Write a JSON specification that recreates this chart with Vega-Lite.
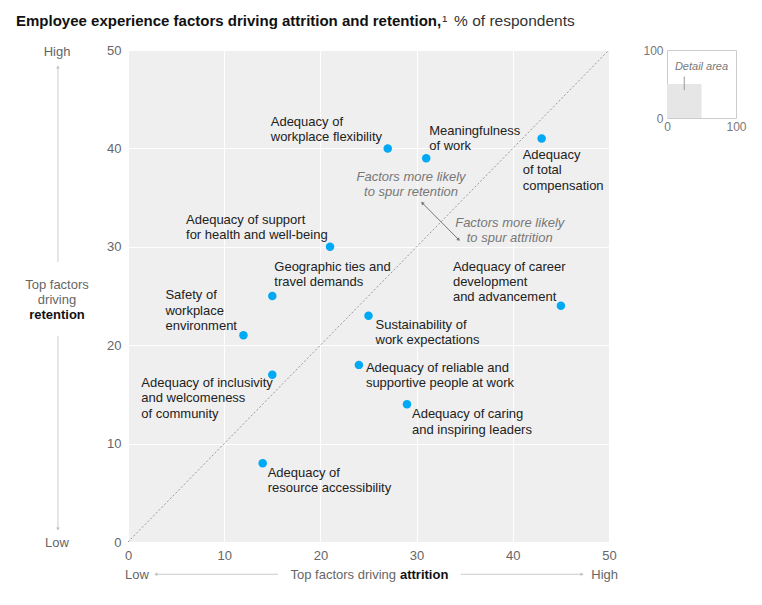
{
  "$schema": "https://vega.github.io/schema/vega-lite/v6.json",
  "padding": {"left": 16, "top": 13, "right": 5, "bottom": 5},
  "spacing": 23,
  "config": {
    "font": "Liberation Sans",
    "axis": {"labelFlush": false, "domain": false, "ticks": false},
    "view": {"stroke": null}
  },
  "hconcat": [
    {
      "width": 481,
      "height": 492,
      "view": {"fill": "#efefef", "stroke": null},
      "data": {
        "values": [
          {"name": "flex", "label": "Adequacy of\nworkplace flexibility", "attrition": 27, "retention": 40},
          {"name": "meaning", "label": "Meaningfulness\nof work", "attrition": 31, "retention": 39},
          {"name": "comp", "label": "Adequacy\nof total\ncompensation", "attrition": 43, "retention": 41},
          {"name": "health", "label": "Adequacy of support\nfor health and well-being", "attrition": 21, "retention": 30},
          {"name": "geo", "label": "Geographic ties and\ntravel demands", "attrition": 15, "retention": 25},
          {"name": "safety", "label": "Safety of\nworkplace\nenvironment", "attrition": 12, "retention": 21},
          {"name": "sustain", "label": "Sustainability of\nwork expectations", "attrition": 25, "retention": 23},
          {"name": "career", "label": "Adequacy of career\ndevelopment\nand advancement", "attrition": 45, "retention": 24},
          {"name": "reliable", "label": "Adequacy of reliable and\nsupportive people at work", "attrition": 24, "retention": 18},
          {"name": "inclus", "label": "Adequacy of inclusivity\nand welcomeness\nof community", "attrition": 15, "retention": 17},
          {"name": "caring", "label": "Adequacy of caring\nand inspiring leaders", "attrition": 29, "retention": 14},
          {"name": "resource", "label": "Adequacy of\nresource accessibility", "attrition": 14, "retention": 8}
        ]
      },
      "layer": [
        {
          "data": {"values": [{}]},
          "mark": {"type": "rule", "strokeDash": [2, 2], "color": "#999", "strokeWidth": 1},
          "encoding": {
            "x": {"datum": 0, "type": "quantitative"},
            "y": {"datum": 0, "type": "quantitative"},
            "x2": {"datum": 50},
            "y2": {"datum": 50}
          }
        },
        {
          "mark": {"type": "circle", "size": 72, "color": "#00a9f4", "opacity": 1},
          "encoding": {
            "x": {
              "field": "attrition", "type": "quantitative",
              "scale": {"domain": [0, 50], "nice": false, "zero": true},
              "axis": {"values": [0, 10, 20, 30, 40, 50], "grid": true, "gridColor": "#ffffff", "gridWidth": 1, "labelColor": "#666", "labelFontSize": 13, "labelPadding": 7, "title": null}
            },
            "y": {
              "field": "retention", "type": "quantitative",
              "scale": {"domain": [0, 50], "nice": false, "zero": true},
              "axis": {"values": [0, 10, 20, 30, 40, 50], "grid": true, "gridColor": "#ffffff", "gridWidth": 1, "labelColor": "#666", "labelFontSize": 13, "labelPadding": 7, "title": null}
            }
          }
        },
        {"transform": [{"filter": {"field": "name", "equal": "flex"}}], "mark": {"type": "text", "align": "left", "baseline": "alphabetic", "lineBreak": "\n", "lineHeight": 15, "fontSize": 13, "color": "#222", "dx": -117, "dy": -22}, "encoding": {"x": {"field": "attrition", "type": "quantitative"}, "y": {"field": "retention", "type": "quantitative"}, "text": {"field": "label"}}},
        {"transform": [{"filter": {"field": "name", "equal": "meaning"}}], "mark": {"type": "text", "align": "left", "baseline": "alphabetic", "lineBreak": "\n", "lineHeight": 15, "fontSize": 13, "color": "#222", "dx": 3, "dy": -23}, "encoding": {"x": {"field": "attrition", "type": "quantitative"}, "y": {"field": "retention", "type": "quantitative"}, "text": {"field": "label"}}},
        {"transform": [{"filter": {"field": "name", "equal": "comp"}}], "mark": {"type": "text", "align": "left", "baseline": "alphabetic", "lineBreak": "\n", "lineHeight": 15.5, "fontSize": 13, "color": "#222", "dx": -19, "dy": 20}, "encoding": {"x": {"field": "attrition", "type": "quantitative"}, "y": {"field": "retention", "type": "quantitative"}, "text": {"field": "label"}}},
        {"transform": [{"filter": {"field": "name", "equal": "health"}}], "mark": {"type": "text", "align": "left", "baseline": "alphabetic", "lineBreak": "\n", "lineHeight": 15, "fontSize": 13, "color": "#222", "dx": -144, "dy": -23}, "encoding": {"x": {"field": "attrition", "type": "quantitative"}, "y": {"field": "retention", "type": "quantitative"}, "text": {"field": "label"}}},
        {"transform": [{"filter": {"field": "name", "equal": "geo"}}], "mark": {"type": "text", "align": "left", "baseline": "alphabetic", "lineBreak": "\n", "lineHeight": 15, "fontSize": 13, "color": "#222", "dx": 2, "dy": -25}, "encoding": {"x": {"field": "attrition", "type": "quantitative"}, "y": {"field": "retention", "type": "quantitative"}, "text": {"field": "label"}}},
        {"transform": [{"filter": {"field": "name", "equal": "safety"}}], "mark": {"type": "text", "align": "left", "baseline": "alphabetic", "lineBreak": "\n", "lineHeight": 15.5, "fontSize": 13, "color": "#222", "dx": -78, "dy": -36}, "encoding": {"x": {"field": "attrition", "type": "quantitative"}, "y": {"field": "retention", "type": "quantitative"}, "text": {"field": "label"}}},
        {"transform": [{"filter": {"field": "name", "equal": "sustain"}}], "mark": {"type": "text", "align": "left", "baseline": "alphabetic", "lineBreak": "\n", "lineHeight": 15, "fontSize": 13, "color": "#222", "dx": 7, "dy": 13}, "encoding": {"x": {"field": "attrition", "type": "quantitative"}, "y": {"field": "retention", "type": "quantitative"}, "text": {"field": "label"}}},
        {"transform": [{"filter": {"field": "name", "equal": "career"}}], "mark": {"type": "text", "align": "left", "baseline": "alphabetic", "lineBreak": "\n", "lineHeight": 15.3, "fontSize": 13, "color": "#222", "dx": -108, "dy": -35}, "encoding": {"x": {"field": "attrition", "type": "quantitative"}, "y": {"field": "retention", "type": "quantitative"}, "text": {"field": "label"}}},
        {"transform": [{"filter": {"field": "name", "equal": "reliable"}}], "mark": {"type": "text", "align": "left", "baseline": "alphabetic", "lineBreak": "\n", "lineHeight": 15, "fontSize": 13, "color": "#222", "dx": 7, "dy": 7}, "encoding": {"x": {"field": "attrition", "type": "quantitative"}, "y": {"field": "retention", "type": "quantitative"}, "text": {"field": "label"}}},
        {"transform": [{"filter": {"field": "name", "equal": "inclus"}}], "mark": {"type": "text", "align": "left", "baseline": "alphabetic", "lineBreak": "\n", "lineHeight": 15.5, "fontSize": 13, "color": "#222", "dx": -131, "dy": 12}, "encoding": {"x": {"field": "attrition", "type": "quantitative"}, "y": {"field": "retention", "type": "quantitative"}, "text": {"field": "label"}}},
        {"transform": [{"filter": {"field": "name", "equal": "caring"}}], "mark": {"type": "text", "align": "left", "baseline": "alphabetic", "lineBreak": "\n", "lineHeight": 15.5, "fontSize": 13, "color": "#222", "dx": 5, "dy": 14}, "encoding": {"x": {"field": "attrition", "type": "quantitative"}, "y": {"field": "retention", "type": "quantitative"}, "text": {"field": "label"}}},
        {"transform": [{"filter": {"field": "name", "equal": "resource"}}], "mark": {"type": "text", "align": "left", "baseline": "alphabetic", "lineBreak": "\n", "lineHeight": 15, "fontSize": 13, "color": "#222", "dx": 5, "dy": 14}, "encoding": {"x": {"field": "attrition", "type": "quantitative"}, "y": {"field": "retention", "type": "quantitative"}, "text": {"field": "label"}}},
        {
          "data": {"values": [{}]},
          "mark": {"type": "text", "align": "left", "baseline": "alphabetic", "fontSize": 15, "fontWeight": "bold", "color": "#111", "text": "Employee experience factors driving attrition and retention,"},
          "encoding": {"x": {"datum": -11.64, "type": "quantitative"}, "y": {"datum": 52.44, "type": "quantitative"}}
        },
        {
          "data": {"values": [{}]},
          "mark": {"type": "text", "align": "left", "baseline": "alphabetic", "fontSize": 15, "color": "#333", "text": "¹"},
          "encoding": {"x": {"datum": 32.66, "type": "quantitative"}, "y": {"datum": 52.44, "type": "quantitative"}}
        },
        {
          "data": {"values": [{}]},
          "mark": {"type": "text", "align": "left", "baseline": "alphabetic", "fontSize": 15.5, "color": "#333", "text": "% of respondents"},
          "encoding": {"x": {"datum": 33.9, "type": "quantitative"}, "y": {"datum": 52.44, "type": "quantitative"}}
        },
        {
          "data": {"values": [{}]},
          "mark": {"type": "text", "align": "center", "baseline": "alphabetic", "fontSize": 13, "fontStyle": "italic", "color": "#777", "lineBreak": "\n", "lineHeight": 15.5, "text": "Factors more likely\nto spur retention"},
          "encoding": {"x": {"datum": 29.42, "type": "quantitative"}, "y": {"datum": 36.72, "type": "quantitative"}}
        },
        {
          "data": {"values": [{}]},
          "mark": {"type": "text", "align": "center", "baseline": "alphabetic", "fontSize": 13, "fontStyle": "italic", "color": "#777", "lineBreak": "\n", "lineHeight": 15.5, "text": "Factors more likely\nto spur attrition"},
          "encoding": {"x": {"datum": 39.68, "type": "quantitative"}, "y": {"datum": 32.06, "type": "quantitative"}}
        },
        {
          "data": {"values": [{}]},
          "mark": {"type": "rule", "color": "#777", "strokeWidth": 1},
          "encoding": {"x": {"datum": 30.63, "type": "quantitative"}, "y": {"datum": 34.42, "type": "quantitative"}, "x2": {"datum": 34.34}, "y2": {"datum": 30.76}}
        },
        {
          "data": {"values": [{}]},
          "mark": {"type": "point", "shape": "triangle", "angle": -45, "filled": true, "size": 14, "color": "#777", "opacity": 1},
          "encoding": {"x": {"datum": 30.63, "type": "quantitative"}, "y": {"datum": 34.42, "type": "quantitative"}}
        },
        {
          "data": {"values": [{}]},
          "mark": {"type": "point", "shape": "triangle", "angle": 135, "filled": true, "size": 14, "color": "#777", "opacity": 1},
          "encoding": {"x": {"datum": 34.34, "type": "quantitative"}, "y": {"datum": 30.76, "type": "quantitative"}}
        },
        {
          "data": {"values": [{}]},
          "mark": {"type": "text", "align": "center", "baseline": "middle", "fontSize": 13, "color": "#666", "text": "High"},
          "encoding": {"x": {"datum": -7.38, "type": "quantitative"}, "y": {"datum": 49.77, "type": "quantitative"}}
        },
        {
          "data": {"values": [{}]},
          "mark": {"type": "text", "align": "center", "baseline": "middle", "fontSize": 13, "color": "#666", "text": "Low"},
          "encoding": {"x": {"datum": -7.38, "type": "quantitative"}, "y": {"datum": -0.1, "type": "quantitative"}}
        },
        {
          "data": {"values": [{}]},
          "mark": {"type": "text", "align": "center", "baseline": "alphabetic", "fontSize": 13, "color": "#666", "lineBreak": "\n", "lineHeight": 15, "text": "Top factors\ndriving"},
          "encoding": {"x": {"datum": -7.38, "type": "quantitative"}, "y": {"datum": 25.76, "type": "quantitative"}}
        },
        {
          "data": {"values": [{}]},
          "mark": {"type": "text", "align": "center", "baseline": "alphabetic", "fontSize": 13, "fontWeight": "bold", "color": "#111", "text": "retention"},
          "encoding": {"x": {"datum": -7.38, "type": "quantitative"}, "y": {"datum": 22.66, "type": "quantitative"}}
        },
        {
          "data": {"values": [{}]},
          "mark": {"type": "rule", "color": "#ccc", "strokeWidth": 1},
          "encoding": {"x": {"datum": -7.28, "type": "quantitative"}, "y": {"datum": 48.27, "type": "quantitative"}, "y2": {"datum": 28.46}}
        },
        {
          "data": {"values": [{}]},
          "mark": {"type": "rule", "color": "#ccc", "strokeWidth": 1},
          "encoding": {"x": {"datum": -7.28, "type": "quantitative"}, "y": {"datum": 20.93, "type": "quantitative"}, "y2": {"datum": 1.32}}
        },
        {
          "data": {"values": [{}]},
          "mark": {"type": "point", "shape": "triangle-up", "filled": true, "size": 12, "color": "#bbb", "opacity": 1},
          "encoding": {"x": {"datum": -7.28, "type": "quantitative"}, "y": {"datum": 48.27, "type": "quantitative"}}
        },
        {
          "data": {"values": [{}]},
          "mark": {"type": "point", "shape": "triangle-down", "filled": true, "size": 12, "color": "#bbb", "opacity": 1},
          "encoding": {"x": {"datum": -7.28, "type": "quantitative"}, "y": {"datum": 1.32, "type": "quantitative"}}
        },
        {
          "data": {"values": [{}]},
          "mark": {"type": "text", "align": "right", "baseline": "alphabetic", "fontSize": 13, "color": "#666", "text": "Top factors driving"},
          "encoding": {"x": {"datum": 27.86, "type": "quantitative"}, "y": {"datum": -3.71, "type": "quantitative"}}
        },
        {
          "data": {"values": [{}]},
          "mark": {"type": "text", "align": "left", "baseline": "alphabetic", "fontSize": 13, "fontWeight": "bold", "color": "#111", "text": "attrition"},
          "encoding": {"x": {"datum": 28.27, "type": "quantitative"}, "y": {"datum": -3.71, "type": "quantitative"}}
        },
        {
          "data": {"values": [{}]},
          "mark": {"type": "text", "align": "left", "baseline": "alphabetic", "fontSize": 13, "color": "#666", "text": "Low"},
          "encoding": {"x": {"datum": -0.31, "type": "quantitative"}, "y": {"datum": -3.71, "type": "quantitative"}}
        },
        {
          "data": {"values": [{}]},
          "mark": {"type": "text", "align": "right", "baseline": "alphabetic", "fontSize": 13, "color": "#666", "text": "High"},
          "encoding": {"x": {"datum": 50.94, "type": "quantitative"}, "y": {"datum": -3.71, "type": "quantitative"}}
        },
        {
          "data": {"values": [{}]},
          "mark": {"type": "rule", "color": "#ccc", "strokeWidth": 1},
          "encoding": {"x": {"datum": 2.9, "type": "quantitative"}, "x2": {"datum": 15.6}, "y": {"datum": -3.28, "type": "quantitative"}}
        },
        {
          "data": {"values": [{}]},
          "mark": {"type": "rule", "color": "#ccc", "strokeWidth": 1},
          "encoding": {"x": {"datum": 34.6, "type": "quantitative"}, "x2": {"datum": 47.2}, "y": {"datum": -3.28, "type": "quantitative"}}
        },
        {
          "data": {"values": [{}]},
          "mark": {"type": "point", "shape": "triangle-left", "filled": true, "size": 12, "color": "#bbb", "opacity": 1},
          "encoding": {"x": {"datum": 2.9, "type": "quantitative"}, "y": {"datum": -3.28, "type": "quantitative"}}
        },
        {
          "data": {"values": [{}]},
          "mark": {"type": "point", "shape": "triangle-right", "filled": true, "size": 12, "color": "#bbb", "opacity": 1},
          "encoding": {"x": {"datum": 47.2, "type": "quantitative"}, "y": {"datum": -3.28, "type": "quantitative"}}
        }
      ]
    },
    {
      "width": 69,
      "height": 68,
      "view": {"fill": "#ffffff", "stroke": "#cccccc"},
      "data": {"values": [{}]},
      "layer": [
        {
          "mark": {"type": "rect", "color": "#e6e6e6"},
          "encoding": {
            "x": {"datum": 0, "type": "quantitative", "scale": {"domain": [0, 100], "nice": false}, "axis": {"values": [0, 100], "grid": false, "labelColor": "#777", "labelFontSize": 12, "labelPadding": 3, "title": null}},
            "x2": {"datum": 50},
            "y": {"datum": 0, "type": "quantitative", "scale": {"domain": [0, 100], "nice": false}, "axis": {"values": [0, 100], "grid": false, "labelColor": "#777", "labelFontSize": 12, "labelPadding": 4, "title": null}},
            "y2": {"datum": 50}
          }
        },
        {
          "mark": {"type": "rule", "color": "#999", "strokeWidth": 1},
          "encoding": {"x": {"datum": 25, "type": "quantitative"}, "y": {"datum": 41, "type": "quantitative"}, "y2": {"datum": 61}}
        },
        {
          "mark": {"type": "text", "align": "center", "baseline": "middle", "fontSize": 11, "fontStyle": "italic", "color": "#777", "text": "Detail area"},
          "encoding": {"x": {"datum": 50, "type": "quantitative"}, "y": {"datum": 74.4, "type": "quantitative"}}
        }
      ]
    }
  ]
}
